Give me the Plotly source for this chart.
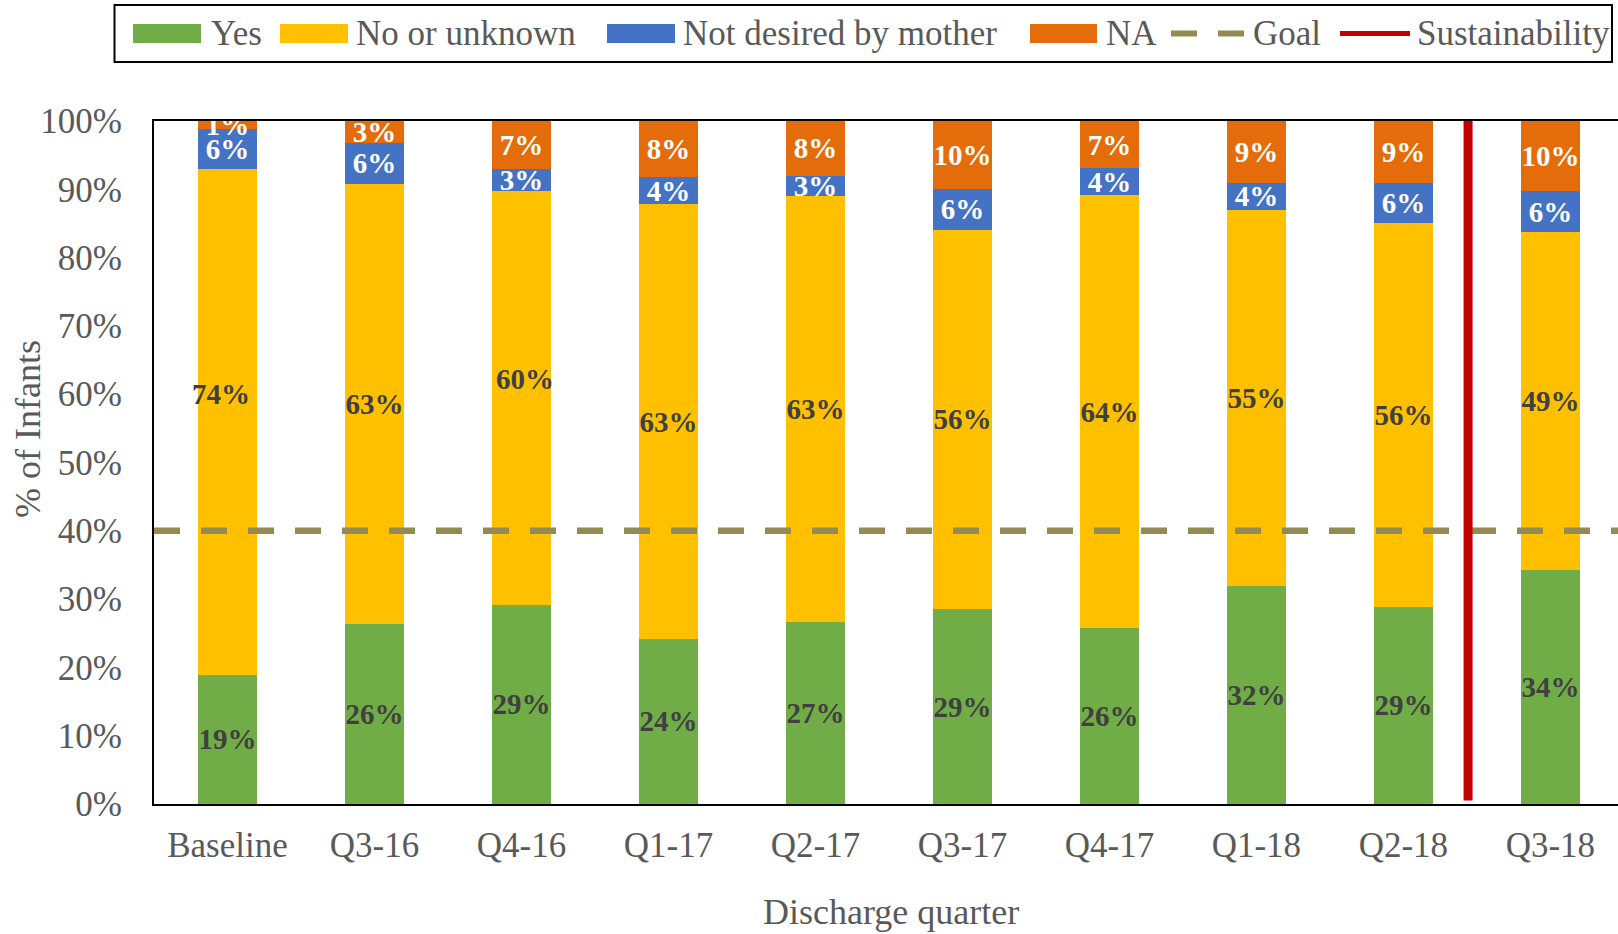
import plotly.graph_objects as go

# ---------------- data ----------------
categories = ["Baseline", "Q3-16", "Q4-16", "Q1-17", "Q2-17", "Q3-17",
              "Q4-17", "Q1-18", "Q2-18", "Q3-18"]
yes = [18.9, 26.4, 29.2, 24.2, 26.6, 28.5, 25.7, 31.9, 28.9, 34.3]
no_unknown = [74.1, 64.4, 60.5, 63.6, 62.4, 55.6, 63.4, 55.1, 56.1, 49.5]
not_desired = [5.9, 6.0, 3.2, 4.0, 3.0, 5.9, 4.0, 3.9, 5.9, 5.9]
na = [1.1, 3.2, 7.1, 8.2, 8.0, 10.0, 6.9, 9.1, 9.1, 10.3]

yes_labels = [19, 26, 29, 24, 27, 29, 26, 32, 29, 34]
no_labels = [74, 63, 60, 63, 63, 56, 64, 55, 56, 49]
not_desired_labels = [6, 6, 3, 4, 3, 6, 4, 4, 6, 6]
na_labels = [1, 3, 7, 8, 8, 10, 7, 9, 9, 10]

goal = 40
sustainability_x = 8.44          # between Q2-18 and Q3-18
sustainability_y = [0.5, 100]

# ---------------- styling ----------------
W, H = 1618, 934
PL, PR, PT, PB = 154, 1618, 121, 804
FONT = "Liberation Serif"
GRAY = "#595959"
DARK = "#404040"
C_YES, C_NO, C_ND, C_NA = "#70AD47", "#FFC000", "#4472C4", "#E46C0A"
C_GOAL, C_SUS = "#948A54", "#C00000"
XR = [-0.5, 9.46]
label_nudges = {0: (-6, 28), 2: (4, 19)}   # pixel shifts of "No or unknown" labels


def fx(px):
    return (px - PL) / (PR - PL)


def fy(py):
    return (PB - py) / (PB - PT)


idx = list(range(len(categories)))
fig = go.Figure()


def add_bar(vals, labels, color, txtcolor, name, skip=()):
    text = ["" if i in skip else f"{l}%" for i, l in enumerate(labels)]
    fig.add_trace(go.Bar(
        x=idx, y=vals, name=name, width=0.4,
        marker=dict(color=color, line=dict(width=0)),
        text=text, textposition="inside", insidetextanchor="middle",
        textangle=0, constraintext="none", cliponaxis=True,
        textfont=dict(family=FONT, size=29, color=txtcolor, weight="bold"),
        showlegend=False, hoverinfo="skip"))


add_bar(yes, yes_labels, C_YES, DARK, "Yes")
add_bar(no_unknown, no_labels, C_NO, DARK, "No or unknown", skip=label_nudges.keys())
add_bar(not_desired, not_desired_labels, C_ND, "white", "Not desired by mother")
add_bar(na, na_labels, C_NA, "white", "NA")

fig.add_trace(go.Scatter(
    x=XR, y=[goal, goal], mode="lines", name="Goal",
    line=dict(color=C_GOAL, width=6.5, dash="26px,21px"),
    showlegend=False, hoverinfo="skip"))
fig.add_trace(go.Scatter(
    x=[sustainability_x, sustainability_x], y=sustainability_y, mode="lines",
    name="Sustainability", line=dict(color=C_SUS, width=9),
    showlegend=False, hoverinfo="skip"))

annotations = []
for i, (dx, dy) in label_nudges.items():
    annotations.append(dict(
        x=idx[i], y=yes[i] + no_unknown[i] / 2, xref="x", yref="y",
        text=f"{no_labels[i]}%", showarrow=False, xshift=dx, yshift=dy,
        xanchor="center", yanchor="middle",
        font=dict(family=FONT, size=29, color=DARK, weight="bold")))

# axis titles
annotations.append(dict(x=fx(28), y=fy(429), xref="paper", yref="paper",
                        xanchor="center", yanchor="middle",
                        text="% of Infants", textangle=-90, showarrow=False,
                        font=dict(family=FONT, size=36, color=GRAY)))
annotations.append(dict(x=fx(891), y=fy(912), xref="paper", yref="paper",
                        xanchor="center", yanchor="middle",
                        text="Discharge quarter", showarrow=False,
                        font=dict(family=FONT, size=36, color=GRAY)))

# ---------------- manual legend ----------------
shapes = [dict(type="rect", xref="paper", yref="paper",
               x0=fx(114.5), x1=fx(1612), y0=fy(62), y1=fy(5),
               line=dict(color="black", width=2), fillcolor="white", layer="above")]
LY = 33.5
for (x0, x1), col in [((133, 201), C_YES), ((280, 348), C_NO),
                      ((607, 675), C_ND), ((1030, 1097), C_NA)]:
    shapes.append(dict(type="rect", xref="paper", yref="paper",
                       x0=fx(x0), x1=fx(x1), y0=fy(LY + 9.5), y1=fy(LY - 9.5),
                       line=dict(width=0), fillcolor=col, layer="above"))
for x0, x1 in [(1171, 1197), (1218, 1244)]:
    shapes.append(dict(type="line", xref="paper", yref="paper",
                       x0=fx(x0), x1=fx(x1), y0=fy(LY), y1=fy(LY),
                       line=dict(color=C_GOAL, width=6), layer="above"))
shapes.append(dict(type="line", xref="paper", yref="paper",
                   x0=fx(1340), x1=fx(1410), y0=fy(LY), y1=fy(LY),
                   line=dict(color=C_SUS, width=5), layer="above"))
for xpos, txt in [(209, "Yes"), (354, "No or unknown"), (681, "Not desired by mother"),
                  (1104, "NA"), (1251, "Goal"), (1415, "Sustainability")]:
    annotations.append(dict(x=fx(xpos), y=fy(LY), xref="paper", yref="paper",
                            xanchor="left", yanchor="middle", text=txt,
                            showarrow=False,
                            font=dict(family=FONT, size=35, color=GRAY)))

fig.update_layout(
    width=W, height=H, barmode="stack",
    margin=dict(l=PL, r=W - PR, t=PT, b=H - PB, pad=0),
    paper_bgcolor="white", plot_bgcolor="white",
    font=dict(family=FONT, color=GRAY),
    xaxis=dict(range=XR, tickmode="array", tickvals=idx, ticktext=categories,
               showgrid=False, zeroline=False, showline=True, linecolor="black",
               linewidth=2, mirror=True, ticks="", ticklabelstandoff=9,
               tickfont=dict(family=FONT, size=35, color=GRAY)),
    yaxis=dict(range=[0, 100], dtick=10, ticksuffix="%", showgrid=False,
               zeroline=False, showline=True, linecolor="black", linewidth=2,
               ticks="", ticklabelstandoff=23,
               tickfont=dict(family=FONT, size=35, color=GRAY)),
    annotations=annotations, shapes=shapes,
)

fig.write_html("out.html", config={"displayModeBar": False},
               post_script="document.body.style.margin='0';document.body.style.overflow='hidden';")
